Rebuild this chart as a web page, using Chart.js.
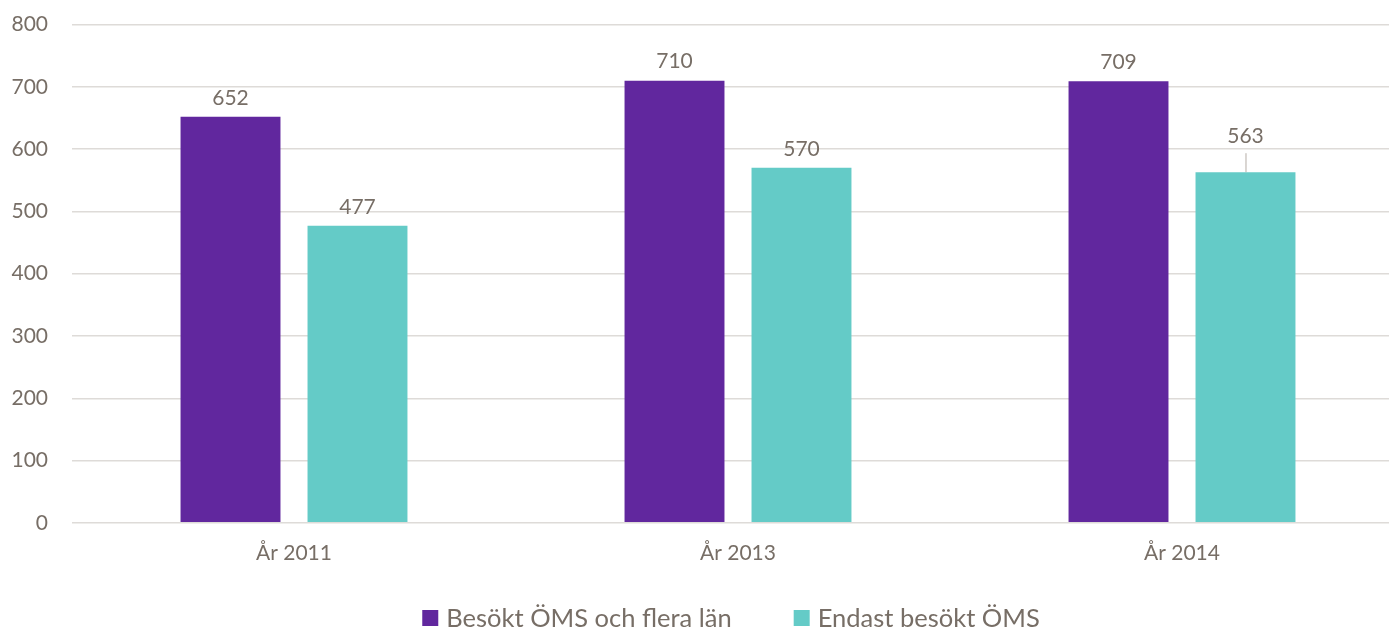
<!DOCTYPE html>
<html>
<head>
<meta charset="utf-8">
<script src="https://cdn.jsdelivr.net/npm/chart.js@4.4.0/dist/chart.umd.min.js"></script>
<style>
  html, body { margin: 0; padding: 0; background: #fff; overflow: hidden; }
  #clip { width: 1389px; height: 629px; overflow: hidden; }
  #wrap { width: 1404px; height: 641px; margin-top: -12px; }
</style>
</head>
<body>
<div id="clip"><div id="wrap"><canvas id="myChart"></canvas></div></div>
<script>
var categories = ['År 2011', 'År 2013', 'År 2014'];
var besoktFlera = [652, 710, 709];
var endastOms = [477, 570, 563];
var yTicks = [0, 100, 200, 300, 400, 500, 600, 700, 800];

var textColor = '#776e66';
var fontFamily = 'Lato, "Open Sans", sans-serif';

// draws the value above each bar, like the data labels in the original
var valueLabels = {
  id: 'valueLabels',
  afterDatasetsDraw: function(chart) {
    var ctx = chart.ctx;
    ctx.save();
    ctx.font = '21px ' + fontFamily;
    ctx.fillStyle = textColor;
    ctx.textAlign = 'center';
    ctx.textBaseline = 'middle';
    chart.data.datasets.forEach(function(ds, i) {
      chart.getDatasetMeta(i).data.forEach(function(bar, j) {
        var y = bar.y - 19;
        // last teal label was pulled up with a leader line
        if (i === 1 && j === 2) {
          y = bar.y - 36;
          ctx.strokeStyle = '#b5aea6';
          ctx.lineWidth = 1;
          ctx.beginPath();
          ctx.moveTo(bar.x + 0.5, y + 17);
          ctx.lineTo(bar.x + 0.5, bar.y);
          ctx.stroke();
        }
        ctx.fillText(ds.data[j], bar.x, y);
      });
    });
    ctx.restore();
  }
};

// legend drawn by hand so the gap between the two entries can be wider
var wideLegend = {
  id: 'wideLegend',
  afterDraw: function(chart) {
    var ctx = chart.ctx;
    var box = 16, textGap = 8, itemGap = 62;
    ctx.save();
    ctx.font = '25.5px ' + fontFamily;
    ctx.textBaseline = 'middle';
    ctx.textAlign = 'left';
    var items = chart.data.datasets.map(function(ds) {
      return { text: ds.label, color: ds.backgroundColor, w: box + textGap + ctx.measureText(ds.label).width };
    });
    var total = items.reduce(function(s, it) { return s + it.w; }, 0) + itemGap * (items.length - 1);
    var x = (chart.chartArea.left + chart.chartArea.right) / 2 - 7 - total / 2;
    var y = chart.height - 10;
    items.forEach(function(it) {
      ctx.fillStyle = it.color;
      ctx.fillRect(x, y - box / 2 - 1, box, box);
      ctx.fillStyle = textColor;
      ctx.fillText(it.text, x + box + textGap, y);
      x += it.w + itemGap;
    });
    ctx.restore();
  }
};

var ctx = document.getElementById('myChart').getContext('2d');
var myChart = new Chart(ctx, {
  type: 'bar',
  data: {
    labels: categories,
    datasets: [{
      label: 'Besökt ÖMS och flera län',
      data: besoktFlera,
      backgroundColor: '#61279e'
    }, {
      label: 'Endast besökt ÖMS',
      data: endastOms,
      backgroundColor: '#64cbc7'
    }]
  },
  options: {
    responsive: true,
    maintainAspectRatio: false,
    animation: false,
    categoryPercentage: 0.572,
    barPercentage: 0.787,
    layout: { padding: { top: 0, right: 0, left: 4, bottom: 53 } },
    scales: {
      x: {
        grid: { display: false },
        border: { display: false },
        ticks: {
          color: textColor,
          font: { family: fontFamily, size: 21 },
          padding: 10
        }
      },
      y: {
        min: 0,
        max: 800,
        afterBuildTicks: function(axis) {
          axis.ticks = yTicks.map(function(v) { return { value: v }; });
        },
        afterFit: function(axis) { axis.width = 68; },
        grid: { color: '#dedbd8', lineWidth: 1.5, drawTicks: false },
        border: { display: false },
        ticks: {
          color: textColor,
          font: { family: fontFamily, size: 21 },
          padding: 24
        }
      }
    },
    plugins: {
      legend: { display: false },
      tooltip: { enabled: false }
    }
  },
  plugins: [valueLabels, wideLegend]
});
</script>
</body>
</html>
